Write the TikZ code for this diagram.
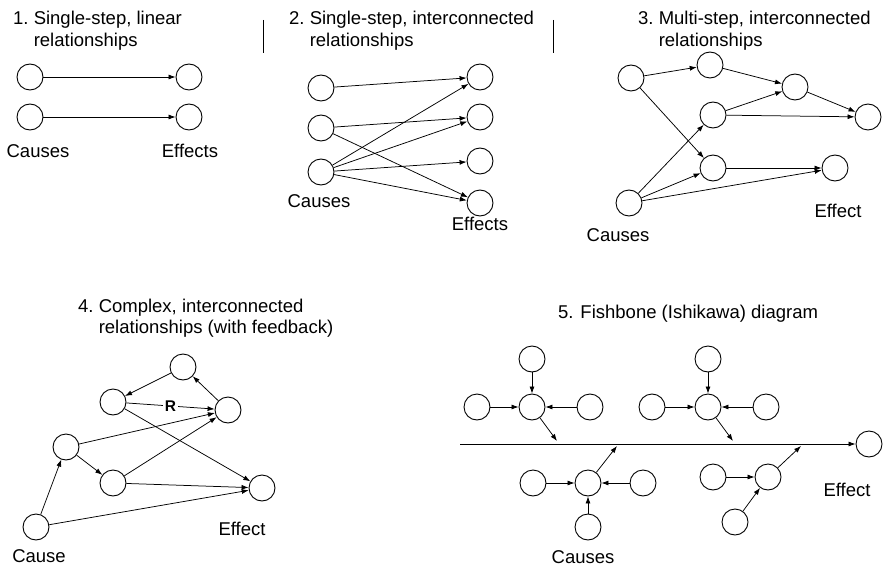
\documentclass[tikz,border=0pt]{standalone}
\usepackage{fontspec}
\setmainfont{Liberation Sans}
\usetikzlibrary{arrows.meta}
\newcommand{\steptitle}[3]{\begin{tabular}[t]{@{}l@{\ }l@{}}#1 & #2\\ & #3\end{tabular}}

\tikzset{
        circ/.style={draw, circle, minimum size=26pt, inner sep=0pt, line width=0.9pt},
        arr/.style={-{Latex[length=7pt,width=5pt]}, line width=0.75pt},
        lbl/.style={anchor=base, inner sep=0pt},
        ttl/.style={anchor=base west, inner sep=0pt}
}

\begin{document}
\begin{tikzpicture}[x=1pt, y=-1pt, font=\fontsize{18.5}{21.5}\selectfont]
        \useasboundingbox (0,0) rectangle (885,567);
        % titles and separators
        \node[ttl] (t1) at (13,25) {\steptitle{1.}{Single-step, linear}{relationships}};
        \node[ttl] (t2) at (289,25) {\steptitle{2.}{Single-step, interconnected}{relationships}};
        \node[ttl] (t3) at (638,25) {\steptitle{3.}{Multi-step, interconnected}{relationships}};
        \node[ttl] (t4) at (78,312) {\steptitle{4.}{Complex, interconnected}{relationships (with feedback)}};
        \node[ttl] (t5) at (558,318) {5. Fishbone (Ishikawa) diagram};
        \draw[line width=0.8pt] (263,20) -- (263,53);
        \draw[line width=0.8pt] (553,20) -- (553,53);

        % 1
        \node[circ] (c11) at (30,77) {};
        \node[circ] (c12) at (30,117) {};
        \node[circ] (e11) at (189,77) {};
        \node[circ] (e12) at (189,117) {};
        \draw[arr] (c11) -- (e11);
        \draw[arr] (c12) -- (e12);
        \node[lbl] (causes1) at (38,157) {Causes};
        \node[lbl] (effects1) at (190,157) {Effects};

        % 2
        \node[circ] (c21) at (321,88) {};
        \node[circ] (c22) at (321,128) {};
        \node[circ] (c23) at (321,172) {};
        \node[circ] (e21) at (480,77) {};
        \node[circ] (e22) at (480,117) {};
        \node[circ] (e23) at (480,161) {};
        \node[circ] (e24) at (480,203) {};
        \draw[arr] (c21) -- (e21);
        \draw[arr] (c22) -- (e22);
        \draw[arr] (c22) -- (e24);
        \foreach \e in {e21,e22,e23,e24}
          \draw[arr] (c23) -- (\e);
        \node[lbl] (causes2) at (319,207) {Causes};
        \node[lbl] (effects2) at (480,230) {Effects};

        % 3
        \node[circ] (a3) at (631,78) {};
        \node[circ] (b3) at (710,65) {};
        \node[circ] (m3) at (795,87) {};
        \node[circ] (d3) at (713,115) {};
        \node[circ] (e3) at (868,117) {};
        \node[circ] (f3) at (713,168) {};
        \node[circ] (g3) at (835,168) {};
        \node[circ] (h3) at (629,203) {};
        \draw[arr] (a3) -- (b3);
        \draw[arr] (b3) -- (m3);
        \draw[arr] (d3) -- (m3);
        \draw[arr] (m3) -- (e3);
        \draw[arr] (d3) -- (e3);
        \draw[arr] (a3) -- (f3);
        \draw[arr] (f3) -- (g3);
        \foreach \e in {d3,f3,g3}
          \draw[arr] (h3) -- (\e);
        \node[lbl] (effect3) at (838,217) {Effect};
        \node[lbl] (causes3) at (618,241) {Causes};

        % 4
        \node[circ] (p1) at (183,367) {};
        \node[circ] (p2) at (113,402) {};
        \node[circ] (p3) at (228,410) {};
        \node[circ] (p4) at (66,447) {};
        \node[circ] (p5) at (113,483) {};
        \node[circ] (p6) at (262,488) {};
        \node[circ] (p7) at (36,527) {};
        \draw[arr] (p3) -- (p1);
        \draw[arr] (p1) -- (p2);
        \draw[arr] (p2) -- node[fill=white, inner sep=1.5pt, font=\fontsize{15.5}{18}\selectfont\bfseries] (r) {R} (p3);
        \draw[arr] (p2) -- (p6);
        \draw[arr] (p4) -- (p3);
        \draw[arr] (p4) -- (p5);
        \draw[arr] (p5) -- (p3);
        \draw[arr] (p5) -- (p6);
        \draw[arr] (p7) -- (p4);
        \draw[arr] (p7) -- (p6);
        \node[lbl] (effect4) at (242,535) {Effect};
        \node[lbl] (cause4) at (39,562) {Cause};

        % 5
        \coordinate (tail) at (460,444);
        \node[circ] (fx) at (869,444) {};
        \draw[arr] (tail) -- (fx);
        \node[circ] (top1) at (532,359) {};
        \node[circ] (hub1) at (532,407) {};
        \node[circ] (lf1) at (477,407) {};
        \node[circ] (rt1) at (590,407) {};
        \node[circ] (top2) at (708,359) {};
        \node[circ] (hub2) at (708,407) {};
        \node[circ] (lf2) at (652,407) {};
        \node[circ] (rt2) at (766,407) {};
        \node[circ] (hub3) at (588,483) {};
        \node[circ] (lf3) at (533,483) {};
        \node[circ] (rt3) at (643,483) {};
        \node[circ] (bot3) at (588,527) {};
        \node[circ] (hub4) at (768,477) {};
        \node[circ] (lf4) at (713,477) {};
        \node[circ] (bl4) at (735,522) {};
        \coordinate (j1) at (557,441);
        \coordinate (j2) at (733,441);
        \coordinate (j3) at (617,446);
        \coordinate (j4) at (801,446);
        \foreach \s in {top1,lf1,rt1}
          \draw[arr] (\s) -- (hub1);
        \foreach \s in {top2,lf2,rt2}
          \draw[arr] (\s) -- (hub2);
        \foreach \s in {bot3,lf3,rt3}
          \draw[arr] (\s) -- (hub3);
        \foreach \s in {lf4,bl4}
          \draw[arr] (\s) -- (hub4);
        \draw[arr] (hub1) -- (j1);
        \draw[arr] (hub2) -- (j2);
        \draw[arr] (hub3) -- (j3);
        \draw[arr] (hub4) -- (j4);
        \node[lbl] (effect5) at (847,496) {Effect};
        \node[lbl] (causes5) at (583,563) {Causes};
\end{tikzpicture}
\end{document}
